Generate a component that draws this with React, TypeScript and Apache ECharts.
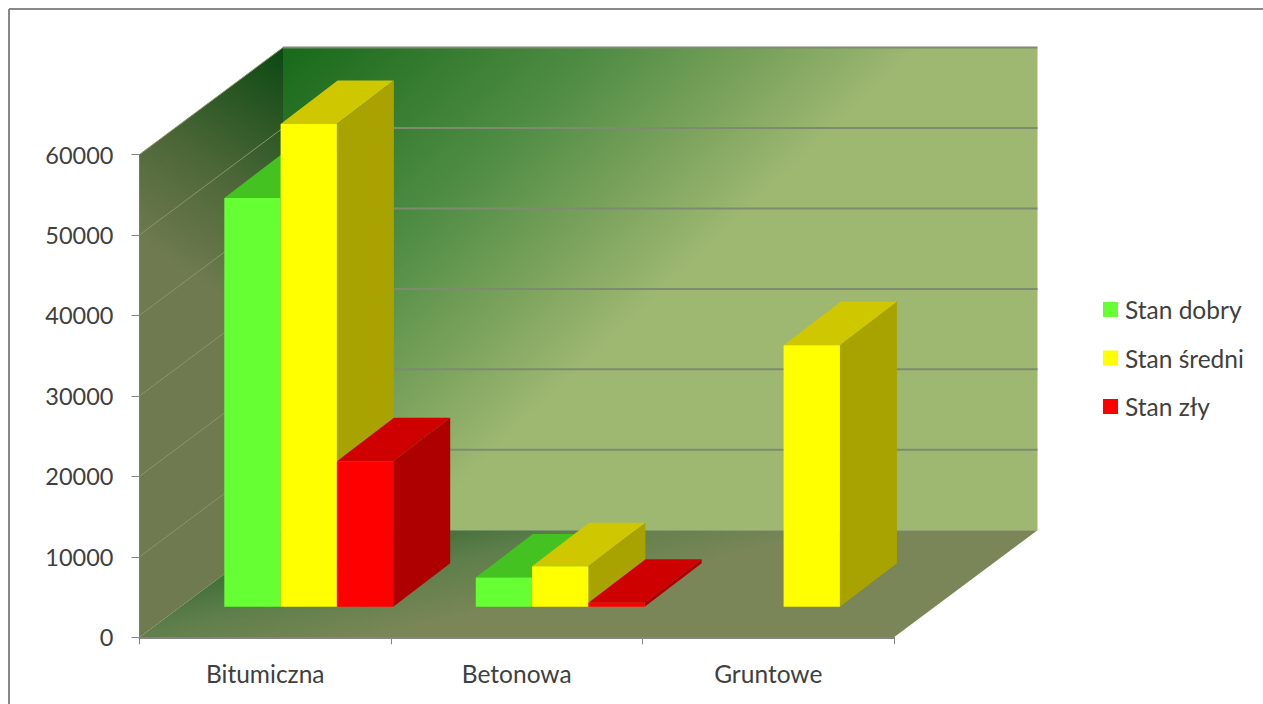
import React, { useEffect, useRef } from "react";
import * as echarts from "echarts";

const categories = ["Bitumiczna", "Betonowa", "Gruntowe"];
const seriesNames = ["Stan dobry", "Stan średni", "Stan zły"];
const stanDobry = [50800, 3630, 0];
const stanSredni = [60000, 5030, 32500];
const stanZly = [18100, 500, 0];
const yTicks = [0, 10000, 20000, 30000, 40000, 50000, 60000];

const FONT = "Lato, 'Open Sans', sans-serif";
const TEXT = "#404040";
const WALL_DX = 143.5;
const WALL_DY = -107;
const BAR_SHIFT_X = 43.5;
const BAR_SHIFT_Y = -30.5;
const BAR_DX = 57;
const BAR_DY = -43.5;
const BAR_W = 56.3;

const palettes = [
  { front: "#66ff33", top: "#44c222", side: "#3ea81e" },
  { front: "#ffff00", top: "#cfc800", side: "#a9a300" },
  { front: "#ff0000", top: "#cf0000", side: "#ae0000" },
];

const poly = (points: number[][], fill: any) => ({
  type: "polygon",
  silent: true,
  shape: { points },
  style: { fill, stroke: "none" },
});

const seg = (a: number[], b: number[], stroke: string, lineWidth: number) => ({
  type: "line",
  silent: true,
  shape: { x1: a[0], y1: a[1], x2: b[0], y2: b[1] },
  style: { stroke, lineWidth },
});

function renderWalls(_: any, api: any) {
  const band = api.size([1, 0])[0];
  const c0 = api.coord([0, 0]);
  const x0 = c0[0] - band / 2;
  const x1 = x0 + band * categories.length;
  const y0 = c0[1];
  const yTop = api.coord([0, yTicks[yTicks.length - 1]])[1];
  const h = y0 - yTop;
  const w = x1 - x0;
  const bx0 = x0 + WALL_DX;
  const bx1 = x1 + WALL_DX;
  const by0 = y0 + WALL_DY;
  const byTop = yTop + WALL_DY;

  const backFill = new echarts.graphic.LinearGradient(
    bx0, byTop, bx0 + w * 0.4, byTop + h * 0.66,
    [
      { offset: 0, color: "#18691a" },
      { offset: 0.5, color: "#4f8c44" },
      { offset: 0.8, color: "#7fa55f" },
      { offset: 1, color: "#9eb872" },
    ],
    true
  );
  const leftFill = new echarts.graphic.LinearGradient(
    bx0, byTop + 10, x0 + 15, yTop + h * 0.2,
    [
      { offset: 0, color: "#0f4a14" },
      { offset: 0.55, color: "#4b6637" },
      { offset: 1, color: "#6f7a50" },
    ],
    true
  );
  const floorFill = new echarts.graphic.LinearGradient(
    bx0 + 47, by0, bx0 + 72, by0 + 110,
    [
      { offset: 0, color: "#356631" },
      { offset: 0.5, color: "#5d7e4a" },
      { offset: 1, color: "#7a8657" },
    ],
    true
  );

  const children: any[] = [
    poly([[x0, y0], [bx0, by0], [bx0, byTop], [x0, yTop]], leftFill),
    poly([[bx0, by0], [bx1, by0], [bx1, byTop], [bx0, byTop]], backFill),
    poly([[x0, y0], [bx0, by0], [bx1, by0], [x1, y0]], floorFill),
  ];
  yTicks.slice(1).forEach((t) => {
    const y = api.coord([0, t])[1];
    children.push(seg([x0, y], [bx0, y + WALL_DY], "#8a9470", 1));
    children.push(seg([bx0, y + WALL_DY], [bx1, y + WALL_DY], "#7e8b70", 2));
  });
  return { type: "group", children };
}

const barRenderer = (seriesIdx: number) => (_: any, api: any) => {
  const value = api.value(1);
  if (!value) return { type: "group", children: [] };
  const base = api.coord([api.value(0), 0]);
  const top = api.coord([api.value(0), value]);
  const xL = base[0] - (BAR_W * seriesNames.length) / 2 + BAR_SHIFT_X + seriesIdx * BAR_W;
  const xR = xL + BAR_W;
  const yB = base[1] + BAR_SHIFT_Y;
  const yT = top[1] + BAR_SHIFT_Y;
  const p = palettes[seriesIdx];
  return {
    type: "group",
    children: [
      poly([[xL, yT], [xR, yT], [xR + BAR_DX, yT + BAR_DY], [xL + BAR_DX, yT + BAR_DY]], p.top),
      poly([[xR, yB], [xR + BAR_DX, yB + BAR_DY], [xR + BAR_DX, yT + BAR_DY], [xR, yT]], p.side),
      poly([[xL, yB], [xR, yB], [xR, yT], [xL, yT]], p.front),
    ],
  };
};

export default function App() {
  const ref = useRef<HTMLDivElement>(null);
  useEffect(() => {
    const chart = echarts.init(ref.current!, null, { renderer: "svg" });
    const values = [stanDobry, stanSredni, stanZly];
    chart.setOption({
      animation: false,
      backgroundColor: "#ffffff",
      textStyle: { fontFamily: FONT },
      grid: { left: 139.5, right: 369, top: 154.5, bottom: 66.7, containLabel: false },
      xAxis: {
        type: "category",
        data: categories,
        axisLine: { show: true, lineStyle: { color: "#868686", width: 2 } },
        axisTick: { show: true, length: 7, lineStyle: { color: "#868686", width: 1 } },
        axisLabel: { color: TEXT, fontSize: 24.5, fontFamily: FONT, margin: 24 },
      },
      yAxis: {
        type: "value",
        min: 0,
        max: 60000,
        interval: 10000,
        axisLine: { show: true, lineStyle: { color: "#868686", width: 1 } },
        axisTick: { show: true, length: 8, lineStyle: { color: "#868686", width: 1 } },
        axisLabel: {
          color: TEXT,
          fontSize: 23.5,
          fontFamily: FONT,
          margin: 26,
          formatter: (v: number) => String(v),
        },
        splitLine: { show: false },
      },
      legend: {
        orient: "vertical",
        left: 1098,
        top: 292,
        data: seriesNames,
        icon: "rect",
        itemWidth: 15,
        itemHeight: 15,
        itemGap: 23.5,
        textStyle: { color: TEXT, fontSize: 24.5, fontFamily: FONT, padding: [0, 0, 0, 2] },
        selectedMode: false,
      },
      graphic: [
        { type: "line", silent: true, shape: { x1: 9, y1: 9, x2: 1263, y2: 9 }, style: { stroke: "#888888", lineWidth: 2 } },
        { type: "line", silent: true, shape: { x1: 9, y1: 9, x2: 9, y2: 704 }, style: { stroke: "#888888", lineWidth: 2 } },
      ],
      series: [
        {
          type: "custom",
          renderItem: renderWalls,
          data: [[0, 0]],
          silent: true,
          z: 1,
          encode: { x: 0, y: 1 },
        },
        ...seriesNames.map((name, i) => ({
          type: "custom",
          name,
          renderItem: barRenderer(i),
          data: values[i].map((v, c) => [c, v]),
          itemStyle: { color: palettes[i].front },
          encode: { x: 0, y: 1 },
          z: 2 + i,
        })),
      ],
    });
    return () => chart.dispose();
  }, []);
  return (
    <div
      ref={ref}
      style={{ position: "fixed", left: 0, top: 0, width: 1263, height: 704 }}
    />
  );
}
